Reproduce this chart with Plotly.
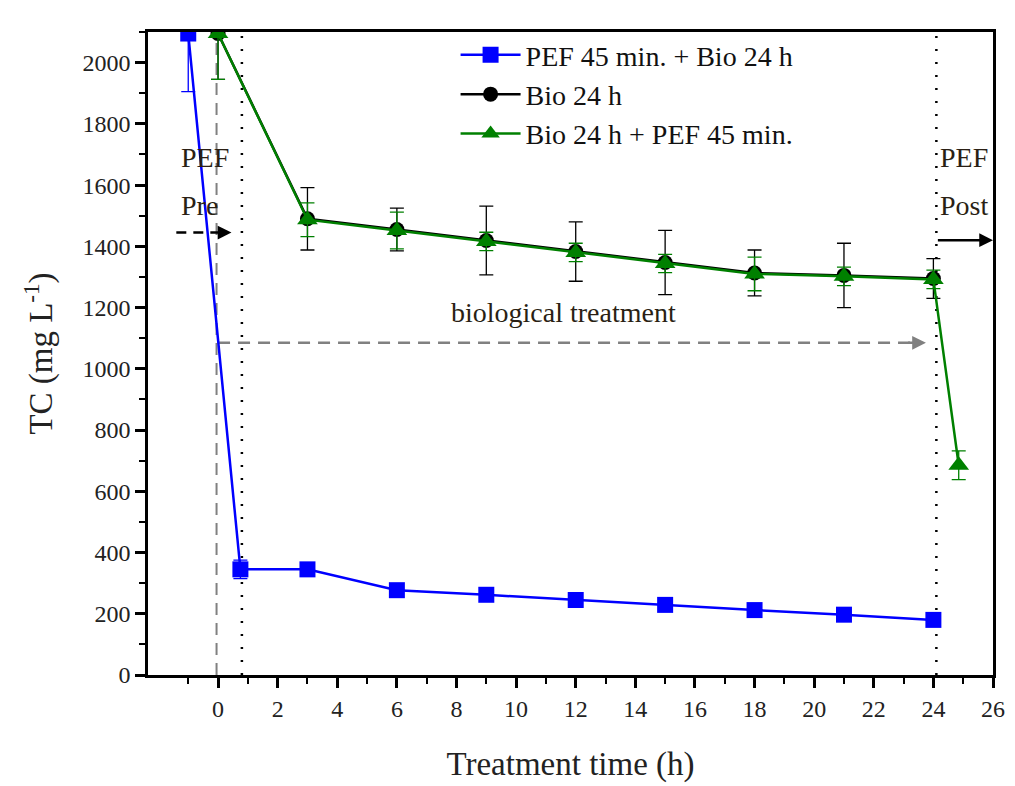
import plotly.graph_objects as go

# ---- data ----
pef_bio_x = [-1, 0.75, 3, 6, 9, 12, 15, 18, 21, 24]
pef_bio_y = [2095, 345, 345, 277, 262, 245, 229, 212, 197, 180]
pef_bio_err = [190, 30, 12, 10, 10, 10, 10, 10, 10, 10]

bio_x = [0, 3, 6, 9, 12, 15, 18, 21, 24]
bio_y = [2095, 1490, 1455, 1419, 1383, 1347, 1313, 1305, 1295]
bio_err = [150, 102, 70, 112, 97, 105, 75, 105, 65]

bio_pef_x = [0, 3, 6, 9, 12, 15, 18, 21, 24, 24.85]
bio_pef_y = [2095, 1487, 1452, 1416, 1380, 1344, 1310, 1302, 1292, 685]
bio_pef_err = [150, 55, 60, 30, 30, 30, 55, 30, 30, 47]

names = ["PEF 45 min. + Bio 24 h", "Bio 24 h", "Bio 24 h + PEF 45 min."]
colors = ["#0000ff", "#000000", "#008000"]
symbols = ["square", "circle", "triangle-up"]

x_ticks = list(range(0, 27, 2))
y_ticks = list(range(0, 2001, 200))

# phase boundaries / annotation anchors
pre_boundary_x = 0.8
post_boundary_x = 24.1
grey_dash_x = -0.05
bio_arrow = dict(x0=0, x1=24, y=1085)
pre_arrow = dict(x0=-1.4, x1=0.45, y=1445)
post_arrow = dict(x0=24.1, x1=26, y=1420)

font = "Liberation Serif, Times New Roman, serif"
txt_col = "#2a1f14"

fig = go.Figure()
series = [(pef_bio_x, pef_bio_y, pef_bio_err), (bio_x, bio_y, bio_err), (bio_pef_x, bio_pef_y, bio_pef_err)]
sizes = [16, 15, 18]
for (x, y, e), n, c, s, sz in zip(series, names, colors, symbols, sizes):
    fig.add_trace(go.Scatter(
        x=x, y=y, name=n, mode="lines+markers",
        line=dict(color=c, width=2.5),
        marker=dict(symbol=s, size=sz, color=c),
        error_y=dict(type="data", array=e, visible=True, color=c, thickness=1.3, width=7),
    ))

shapes = []
dot = "2px,11px"
for xv in [pre_boundary_x, post_boundary_x]:
    shapes.append(dict(type="line", xref="x", yref="paper", x0=xv, x1=xv, y0=0, y1=1,
                       line=dict(color="black", width=2.5, dash=dot), layer="below"))
shapes.append(dict(type="line", xref="x", yref="y", x0=grey_dash_x, x1=grey_dash_x, y0=0, y1=2080,
                   line=dict(color="#808080", width=2, dash="12px,8px"), layer="below"))
shapes.append(dict(type="line", xref="x", yref="y", x0=bio_arrow["x0"], x1=bio_arrow["x1"] - 0.5,
                   y0=bio_arrow["y"], y1=bio_arrow["y"],
                   line=dict(color="#808080", width=2.5, dash="12px,8px"), layer="below"))
shapes.append(dict(type="line", xref="x", yref="y", x0=pre_arrow["x0"], x1=pre_arrow["x1"] - 0.4,
                   y0=pre_arrow["y"], y1=pre_arrow["y"],
                   line=dict(color="black", width=2.5, dash="10px,7px")))

annotations = [
    dict(x=bio_arrow["x1"] - 0.25, y=bio_arrow["y"], ax=bio_arrow["x1"] - 0.9, ay=bio_arrow["y"],
         xref="x", yref="y", axref="x", ayref="y", text="", showarrow=True,
         arrowhead=2, arrowsize=1.1, arrowwidth=2.5, arrowcolor="#808080"),
    dict(x=pre_arrow["x1"], y=pre_arrow["y"], ax=pre_arrow["x1"] - 0.5, ay=pre_arrow["y"],
         xref="x", yref="y", axref="x", ayref="y", text="", showarrow=True,
         arrowhead=2, arrowsize=1.1, arrowwidth=2.5, arrowcolor="black"),
    dict(x=post_arrow["x1"], y=post_arrow["y"], ax=post_arrow["x0"], ay=post_arrow["y"],
         xref="x", yref="y", axref="x", ayref="y", text="", showarrow=True,
         arrowhead=2, arrowsize=1.1, arrowwidth=2.5, arrowcolor="black"),
    dict(x=-1.3, y=1690, xref="x", yref="y", text="PEF", showarrow=False, xanchor="left",
         font=dict(family=font, size=28, color=txt_col)),
    dict(x=-1.3, y=1535, xref="x", yref="y", text="Pre", showarrow=False, xanchor="left",
         font=dict(family=font, size=28, color=txt_col)),
    dict(x=24.15, y=1690, xref="x", yref="y", text="PEF", showarrow=False, xanchor="left",
         font=dict(family=font, size=28, color=txt_col)),
    dict(x=24.15, y=1535, xref="x", yref="y", text="Post", showarrow=False, xanchor="left",
         font=dict(family=font, size=28, color=txt_col)),
    dict(x=11.6, y=1185, xref="x", yref="y", text="biological treatment", showarrow=False,
         font=dict(family=font, size=28, color=txt_col)),
]

axis_common = dict(showline=True, linecolor="black", linewidth=2.5, mirror=True, showgrid=False,
                   zeroline=False, ticks="outside", tickcolor="black", tickwidth=2.5, ticklen=10,
                   tickfont=dict(family=font, size=24, color="#222"))

fig.update_layout(
    width=1015, height=786,
    margin=dict(l=140, r=30, t=24, b=119),
    plot_bgcolor="white", paper_bgcolor="white",
    shapes=shapes, annotations=annotations,
    showlegend=True,
    legend=dict(x=0.364, y=1.003, xanchor="left", yanchor="top", bgcolor="rgba(0,0,0,0)",
                font=dict(family=font, size=28, color="#111"), tracegroupgap=0, itemwidth=60),
    xaxis=dict(range=[-2.35, 26], tickmode="array", tickvals=x_ticks,
               minor=dict(tickvals=list(range(-1, 27, 2)), ticks="outside", ticklen=6, tickwidth=2, tickcolor="black"),
               title=dict(text="Treatment time (h)", font=dict(family=font, size=33, color="#222"), standoff=32),
               **axis_common),
    yaxis=dict(range=[0, 2100], tickmode="array", tickvals=y_ticks,
               minor=dict(tickvals=list(range(100, 2101, 200)), ticks="outside", ticklen=6, tickwidth=2, tickcolor="black"),
               title=dict(text="TC (mg L<sup>-1</sup>)", font=dict(family=font, size=33, color="#222"), standoff=20),
               **axis_common),
)

fig.write_html("out.html")
